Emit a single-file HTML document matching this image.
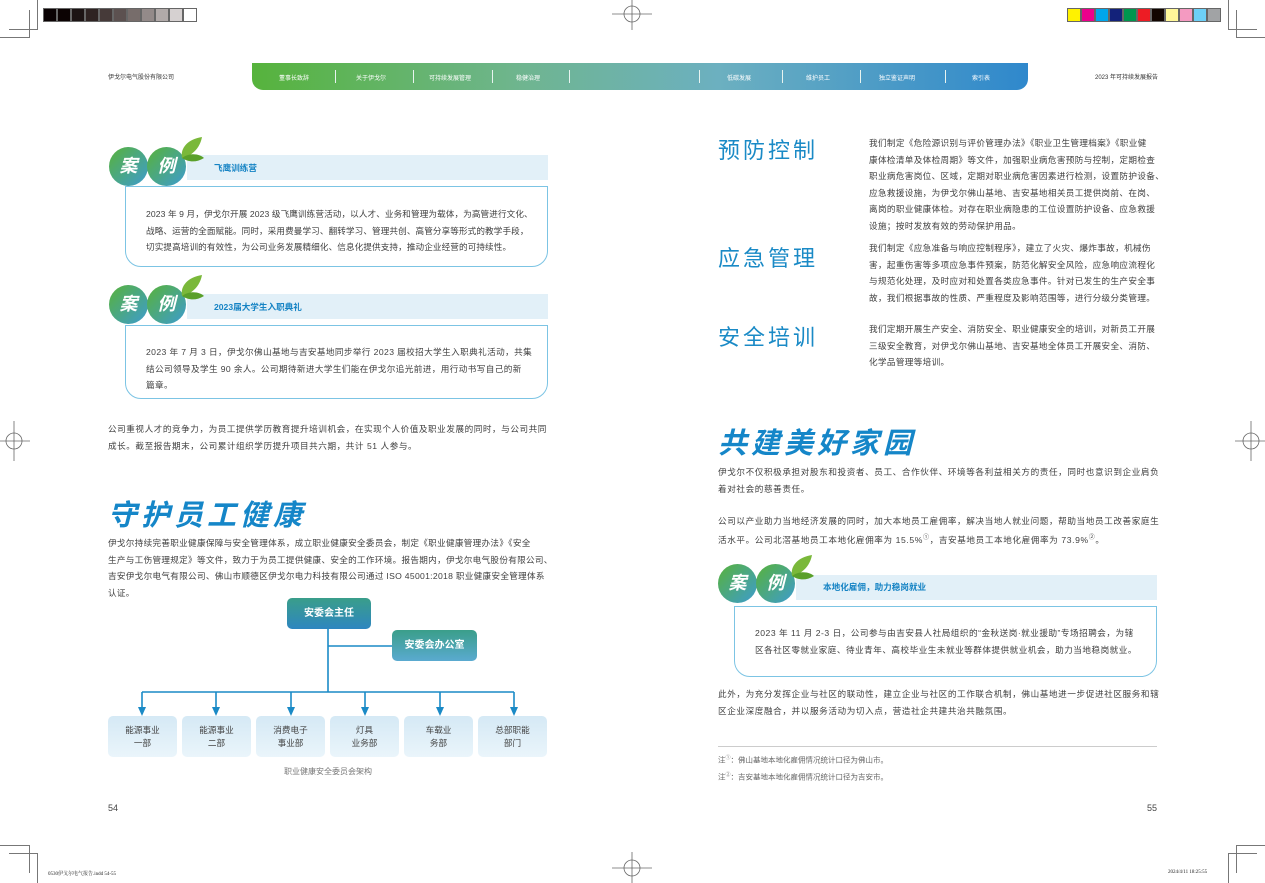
<!DOCTYPE html>
<html><head><meta charset="utf-8">
<style>
*{margin:0;padding:0;box-sizing:border-box}
body{width:1265px;height:883px;position:relative;background:#fff;font-family:"Liberation Sans","Noto Sans CJK SC",sans-serif;color:#444;overflow:hidden}
.a{position:absolute;white-space:nowrap}
.t{font-size:8.6px;line-height:16.6px;color:#404040}
.sw{position:absolute;top:8px;width:14px;height:14px;border:1px solid #666}
.nav{position:absolute;left:252px;top:63px;width:776px;height:27px;border-radius:0 0 11px 11px;background:linear-gradient(90deg,#56b33c,#6fb590 35%,#6cb0c0 60%,#2f88cc)}
.nv{position:absolute;top:10px;font-size:6px;color:#fff}
.sep{position:absolute;top:7px;width:1px;height:13px;background:#e8f4f0}
.band{position:absolute;height:25px;background:#e2f0f8}
.ttl{position:absolute;font-size:8.6px;font-weight:bold;color:#1583c4}
.box{position:absolute;border:1px solid #7cc4e4;border-radius:0 0 16px 16px;background:#fff}
.c{position:absolute;width:39px;height:39px;border-radius:50%;background:linear-gradient(135deg,#58b23a,#3d9ccf);color:#fff;font-weight:bold;font-style:italic;font-size:18px;text-align:center;line-height:39px}
.h{position:absolute;font-size:22px;color:#1a8ac6;letter-spacing:3px;white-space:nowrap}
.big{position:absolute;font-size:29px;font-weight:bold;font-style:italic;color:#1586c8;letter-spacing:4px;white-space:nowrap}
.ob{position:absolute;width:69px;height:41px;border-radius:5px;background:linear-gradient(#d5e9f5,#eaf5fb);font-size:8.6px;line-height:13px;text-align:center;padding-top:8px;color:#444}
.hb{position:absolute;border-radius:5px;color:#fff;font-weight:bold;font-size:10px;text-align:center}
.crop{position:absolute;background:#777}
</style></head><body>

<div class="sw" style="left:43px;background:#0a0203"></div>
<div class="sw" style="left:57px;background:#0c0303"></div>
<div class="sw" style="left:71px;background:#1c1414"></div>
<div class="sw" style="left:85px;background:#2e2322"></div>
<div class="sw" style="left:99px;background:#463a39"></div>
<div class="sw" style="left:113px;background:#5c5150"></div>
<div class="sw" style="left:127px;background:#776d6b"></div>
<div class="sw" style="left:141px;background:#938a89"></div>
<div class="sw" style="left:155px;background:#b1aaa9"></div>
<div class="sw" style="left:169px;background:#d6d1d1"></div>
<div class="sw" style="left:183px;background:#fff"></div>

<div class="sw" style="left:1067px;background:#fff200"></div>
<div class="sw" style="left:1081px;background:#ec008c"></div>
<div class="sw" style="left:1095px;background:#00a6eb"></div>
<div class="sw" style="left:1109px;background:#13227a"></div>
<div class="sw" style="left:1123px;background:#00964f"></div>
<div class="sw" style="left:1137px;background:#ed1c24"></div>
<div class="sw" style="left:1151px;background:#120500"></div>
<div class="sw" style="left:1165px;background:#fff799"></div>
<div class="sw" style="left:1179px;background:#f49ac1"></div>
<div class="sw" style="left:1193px;background:#6dcff6"></div>
<div class="sw" style="left:1207px;background:#a1a3a5"></div>

<div class="crop" style="left:37px;top:0;width:1px;height:29px"></div>
<div class="crop" style="left:29px;top:10px;width:1px;height:28px"></div>
<div class="crop" style="left:9px;top:29px;width:29px;height:1px"></div>
<div class="crop" style="left:0;top:37px;width:29px;height:1px"></div>
<div class="crop" style="left:1228px;top:0;width:1px;height:29px"></div>
<div class="crop" style="left:1236px;top:10px;width:1px;height:28px"></div>
<div class="crop" style="left:1228px;top:29px;width:29px;height:1px"></div>
<div class="crop" style="left:1236px;top:37px;width:29px;height:1px"></div>
<div class="crop" style="left:29px;top:845px;width:1px;height:28px"></div>
<div class="crop" style="left:37px;top:854px;width:1px;height:29px"></div>
<div class="crop" style="left:0;top:845px;width:29px;height:1px"></div>
<div class="crop" style="left:9px;top:853px;width:29px;height:1px"></div>
<div class="crop" style="left:1236px;top:845px;width:1px;height:28px"></div>
<div class="crop" style="left:1228px;top:854px;width:1px;height:29px"></div>
<div class="crop" style="left:1236px;top:845px;width:29px;height:1px"></div>
<div class="crop" style="left:1228px;top:853px;width:29px;height:1px"></div>
<svg class="a" style="left:0;top:0" width="1265" height="883">
<g stroke="#666" stroke-width="0.8" fill="none">
<circle cx="632" cy="14" r="8"/><line x1="612" y1="14" x2="652" y2="14"/><line x1="632" y1="0" x2="632" y2="30"/>
<circle cx="632" cy="868" r="8"/><line x1="612" y1="868" x2="652" y2="868"/><line x1="632" y1="852" x2="632" y2="883"/>
<circle cx="14" cy="441" r="8"/><line x1="0" y1="441" x2="30" y2="441"/><line x1="14" y1="421" x2="14" y2="461"/>
<circle cx="1251" cy="441" r="8"/><line x1="1235" y1="441" x2="1265" y2="441"/><line x1="1251" y1="421" x2="1251" y2="461"/>
</g></svg>

<div class="a" style="left:108px;top:72px;font-size:6px;color:#333">伊戈尔电气股份有限公司</div>
<div class="a" style="left:1095px;top:72px;font-size:6px;color:#333">2023 年可持续发展报告</div>
<div class="nav">
<div class="nv" style="left:27px">董事长致辞</div>
<div class="sep" style="left:83px"></div>
<div class="nv" style="left:104px">关于伊戈尔</div>
<div class="sep" style="left:161px"></div>
<div class="nv" style="left:177px">可持续发展管理</div>
<div class="sep" style="left:240px"></div>
<div class="nv" style="left:264px">稳健治理</div>
<div class="sep" style="left:317px"></div>
<div class="sep" style="left:447px"></div>
<div class="nv" style="left:475px">低碳发展</div>
<div class="sep" style="left:530px"></div>
<div class="nv" style="left:554px">维护员工</div>
<div class="sep" style="left:608px"></div>
<div class="nv" style="left:627px">独立鉴证声明</div>
<div class="sep" style="left:693px"></div>
<div class="nv" style="left:720px">索引表</div>
</div>

<div class="band" style="left:187px;top:155px;width:361px"></div>
<div class="c" style="left:109px;top:147px">案</div>
<div class="c" style="left:147px;top:147px">例</div>
<svg class="a" style="left:178px;top:136px" width="28" height="28"><path d="M4 22 C2 12 10 3 24 1 C22 12 14 20 4 22Z" fill="#7ab83a"/><path d="M4 22 C12 16 22 18 26 22 C18 27 10 26 4 22Z" fill="#5aa02a"/></svg>
<div class="ttl" style="left:214px;top:162px">飞鹰训练营</div>
<div class="box" style="left:125px;top:186px;width:423px;height:81px"></div>
<div class="a t" style="left:146px;top:206px;letter-spacing:0.1px">2023 年 9 月，伊戈尔开展 2023 级飞鹰训练营活动，以人才、业务和管理为载体，为高管进行文化、<br>战略、运营的全面赋能。同时，采用费曼学习、翻转学习、管理共创、高管分享等形式的教学手段，<br>切实提高培训的有效性，为公司业务发展精细化、信息化提供支持，推动企业经营的可持续性。</div>

<div class="band" style="left:187px;top:294px;width:361px"></div>
<div class="c" style="left:109px;top:285px">案</div>
<div class="c" style="left:147px;top:285px">例</div>
<svg class="a" style="left:178px;top:274px" width="28" height="28"><path d="M4 22 C2 12 10 3 24 1 C22 12 14 20 4 22Z" fill="#7ab83a"/><path d="M4 22 C12 16 22 18 26 22 C18 27 10 26 4 22Z" fill="#5aa02a"/></svg>
<div class="ttl" style="left:214px;top:301px">2023届大学生入职典礼</div>
<div class="box" style="left:125px;top:325px;width:423px;height:74px"></div>
<div class="a t" style="left:146px;top:344px;letter-spacing:0.4px">2023 年 7 月 3 日，伊戈尔佛山基地与吉安基地同步举行 2023 届校招大学生入职典礼活动，共集<br>结公司领导及学生 90 余人。公司期待新进大学生们能在伊戈尔追光前进，用行动书写自己的新<br>篇章。</div>

<div class="a t" style="left:108px;top:421px;letter-spacing:0.55px">公司重视人才的竞争力，为员工提供学历教育提升培训机会，在实现个人价值及职业发展的同时，与公司共同<br>成长。截至报告期末，公司累计组织学历提升项目共六期，共计 51 人参与。</div>

<div class="big" style="left:108px;top:492px">守护员工健康</div>
<div class="a t" style="left:108px;top:535px;letter-spacing:0.3px">伊戈尔持续完善职业健康保障与安全管理体系，成立职业健康安全委员会，制定《职业健康管理办法》《安全<br>生产与工伤管理规定》等文件，致力于为员工提供健康、安全的工作环境。报告期内，伊戈尔电气股份有限公司、<br>吉安伊戈尔电气有限公司、佛山市顺德区伊戈尔电力科技有限公司通过 ISO 45001:2018 职业健康安全管理体系<br>认证。</div>

<svg class="a" style="left:100px;top:620px" width="460" height="100">
<g stroke="#1a8ac6" stroke-width="1.6" fill="none">
<line x1="228" y1="0" x2="228" y2="72"/><line x1="228" y1="26" x2="292" y2="26"/>
<line x1="42" y1="72" x2="414" y2="72"/>
<line x1="42" y1="72" x2="42" y2="88"/><line x1="116" y1="72" x2="116" y2="88"/><line x1="191" y1="72" x2="191" y2="88"/><line x1="265" y1="72" x2="265" y2="88"/><line x1="340" y1="72" x2="340" y2="88"/><line x1="414" y1="72" x2="414" y2="88"/>
</g>
<g fill="#1a8ac6">
<polygon points="38,87 46,87 42,96"/><polygon points="112,87 120,87 116,96"/><polygon points="187,87 195,87 191,96"/><polygon points="261,87 269,87 265,96"/><polygon points="336,87 344,87 340,96"/><polygon points="410,87 418,87 414,96"/>
</g></svg>
<div class="hb" style="left:287px;top:598px;width:84px;height:31px;line-height:31px;background:linear-gradient(#3a9e8a,#2e86c0)">安委会主任</div>
<div class="hb" style="left:392px;top:630px;width:85px;height:31px;line-height:31px;background:linear-gradient(#3a9e8a,#5aaad0)">安委会办公室</div>
<div class="ob" style="left:108px;top:716px">能源事业<br>一部</div>
<div class="ob" style="left:182px;top:716px">能源事业<br>二部</div>
<div class="ob" style="left:256px;top:716px">消费电子<br>事业部</div>
<div class="ob" style="left:330px;top:716px">灯具<br>业务部</div>
<div class="ob" style="left:404px;top:716px">车载业<br>务部</div>
<div class="ob" style="left:478px;top:716px">总部职能<br>部门</div>
<div class="a" style="left:284px;top:766px;font-size:8px;color:#777">职业健康安全委员会架构</div>

<div class="a" style="left:108px;top:803px;font-size:9px;color:#444">54</div>
<div class="a" style="left:1147px;top:803px;font-size:9px;color:#444">55</div>

<div class="h" style="left:718px;top:133px">预防控制</div>
<div class="a t" style="left:869px;top:135px;letter-spacing:0.35px">我们制定《危险源识别与评价管理办法》《职业卫生管理档案》《职业健<br>康体检清单及体检周期》等文件，加强职业病危害预防与控制，定期检查<br>职业病危害岗位、区域，定期对职业病危害因素进行检测，设置防护设备、<br>应急救援设施，为伊戈尔佛山基地、吉安基地相关员工提供岗前、在岗、<br>离岗的职业健康体检。对存在职业病隐患的工位设置防护设备、应急救援<br>设施；按时发放有效的劳动保护用品。</div>
<div class="h" style="left:718px;top:241px">应急管理</div>
<div class="a t" style="left:869px;top:240px;letter-spacing:0.35px">我们制定《应急准备与响应控制程序》，建立了火灾、爆炸事故，机械伤<br>害，起重伤害等多项应急事件预案，防范化解安全风险，应急响应流程化<br>与规范化处理，及时应对和处置各类应急事件。针对已发生的生产安全事<br>故，我们根据事故的性质、严重程度及影响范围等，进行分级分类管理。</div>
<div class="h" style="left:718px;top:320px">安全培训</div>
<div class="a t" style="left:869px;top:321px;letter-spacing:0.35px">我们定期开展生产安全、消防安全、职业健康安全的培训，对新员工开展<br>三级安全教育，对伊戈尔佛山基地、吉安基地全体员工开展安全、消防、<br>化学品管理等培训。</div>

<div class="big" style="left:718px;top:420px">共建美好家园</div>
<div class="a t" style="left:718px;top:464px;letter-spacing:0.6px">伊戈尔不仅积极承担对股东和投资者、员工、合作伙伴、环境等各利益相关方的责任，同时也意识到企业肩负<br>着对社会的慈善责任。</div>
<div class="a t" style="left:718px;top:513px;letter-spacing:0.6px">公司以产业助力当地经济发展的同时，加大本地员工雇佣率，解决当地人就业问题，帮助当地员工改善家庭生<br>活水平。公司北滘基地员工本地化雇佣率为 15.5%<sup style="font-size:6px">①</sup>，吉安基地员工本地化雇佣率为 73.9%<sup style="font-size:6px">②</sup>。</div>

<div class="band" style="left:796px;top:575px;width:361px"></div>
<div class="c" style="left:718px;top:564px">案</div>
<div class="c" style="left:756px;top:564px">例</div>
<svg class="a" style="left:788px;top:554px" width="28" height="30"><path d="M4 22 C2 12 10 3 24 1 C22 12 14 20 4 22Z" fill="#7ab83a"/><path d="M4 22 C12 16 22 18 26 22 C18 27 10 26 4 22Z" fill="#5aa02a"/></svg>
<div class="ttl" style="left:823px;top:581px">本地化雇佣，助力稳岗就业</div>
<div class="box" style="left:734px;top:606px;width:423px;height:71px"></div>
<div class="a t" style="left:755px;top:625px;letter-spacing:0.5px">2023 年 11 月 2-3 日，公司参与由吉安县人社局组织的“金秋送岗·就业援助”专场招聘会，为辖<br>区各社区零就业家庭、待业青年、高校毕业生未就业等群体提供就业机会，助力当地稳岗就业。</div>

<div class="a t" style="left:718px;top:686px;letter-spacing:0.6px">此外，为充分发挥企业与社区的联动性，建立企业与社区的工作联合机制，佛山基地进一步促进社区服务和辖<br>区企业深度融合，并以服务活动为切入点，营造社企共建共治共融氛围。</div>
<div class="a" style="left:718px;top:746px;width:439px;height:1px;background:#ccc"></div>
<div class="a" style="left:718px;top:751px;font-size:7.5px;line-height:14px;color:#666">注<sup style="font-size:5px">①</sup>：佛山基地本地化雇佣情况统计口径为佛山市。<br>注<sup style="font-size:5px">②</sup>：吉安基地本地化雇佣情况统计口径为吉安市。</div>

<div class="a" style="left:48px;top:870px;font-size:5px;color:#222;font-family:'Liberation Serif','Noto Serif CJK SC',serif">0530伊戈尔电气报告.indd 54-55</div>
<div class="a" style="left:1168px;top:870px;font-size:5px;color:#222;font-family:'Liberation Serif',serif">2024/4/11 18:25:55</div>
</body></html>
